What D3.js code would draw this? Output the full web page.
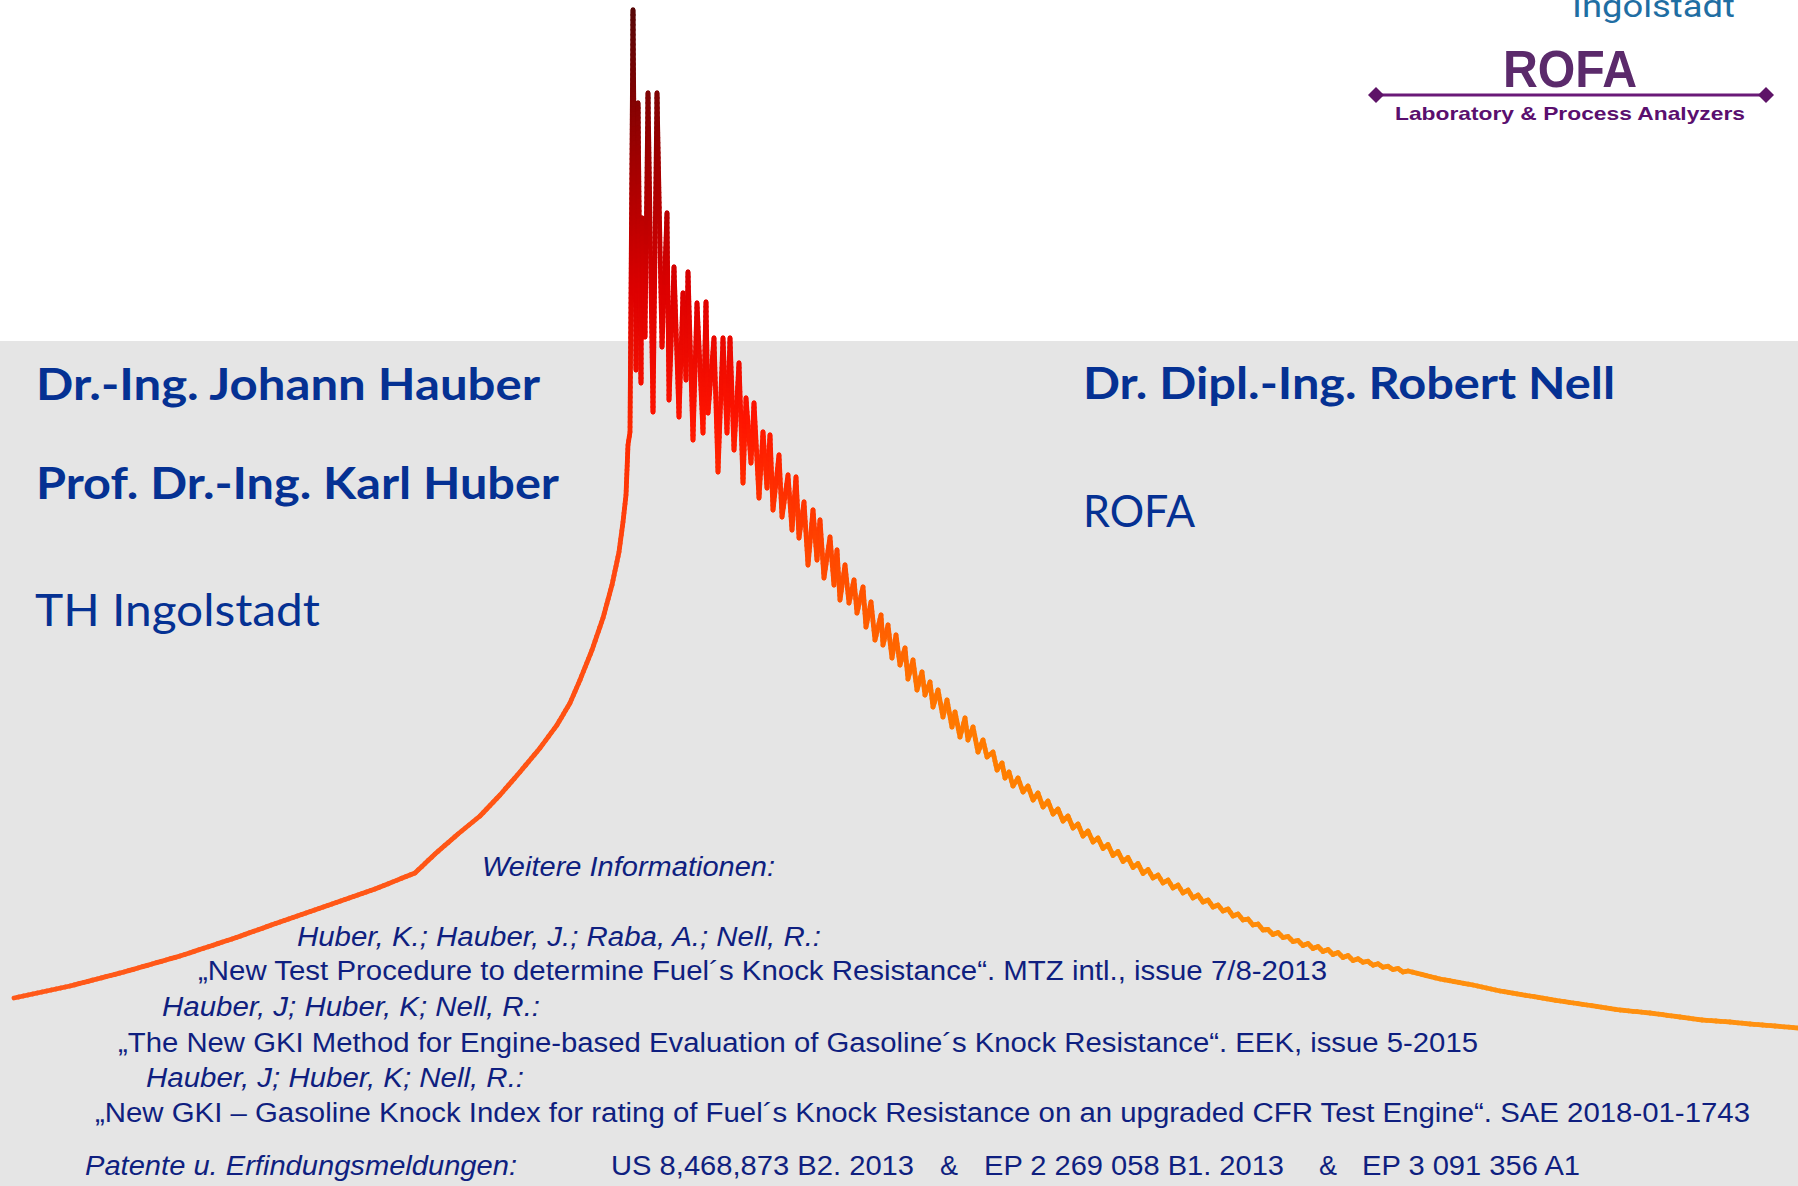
<!DOCTYPE html>
<html><head><meta charset="utf-8">
<script src="https://cdn.jsdelivr.net/npm/d3@7"></script>
<style>html,body{margin:0;padding:0;background:#fff;overflow:hidden}</style>
</head><body><svg id="c" width="1798" height="1186"></svg>
<script>
// ---------------- DATA ----------------
// crank angle [°CA] , cylinder pressure [bar]
const compression = [
  [-31.0,4.2],[-28.2,5.4],[-25.5,6.8],[-22.7,8.4],[-20.1,10.1],[-17.7,11.8],[-15.1,13.6],[-12.95,15.1],
  [-10.95,16.7],[-9.95,18.6],[-8.8,20.6],[-7.7,22.4],[-6.7,24.5],[-5.7,26.8],[-4.7,29.2],[-3.85,31.5],
  [-3.2,33.7],[-2.7,36.0],[-2.1,39.0],[-1.55,42.2],[-1.1,45.5],[-0.75,48.8],[-0.55,51.8],[-0.4,54.5],
  [-0.35,57.0],[-0.3,59.5],[-0.2,60.8]
];
const knock = [
  [-0.05,103.0],[0.1,67.0],[0.2,93.7],[0.35,65.7],[0.4,82.2],[0.55,70.3],[0.7,94.7],[0.95,62.8],
  [1.15,94.7],[1.4,69.3],[1.65,82.7],[1.75,64.0],[2.0,77.3],[2.25,62.3],[2.45,74.7],[2.6,66.0],
  [2.7,76.8],[2.95,60.0],[3.15,73.7],[3.45,60.7],[3.6,73.8],[3.7,62.7],[4.0,70.2],[4.2,56.8],
  [4.45,70.2],[4.65,60.7],[4.8,70.2],[5.0,59.0],[5.25,67.7],[5.45,55.7],[5.6,64.2],[5.85,57.7],
  [6.0,63.7],[6.25,54.2],[6.45,60.8],[6.65,55.2],[6.8,60.5],[6.95,53.0],[7.25,58.5],[7.4,52.3],
  [7.7,56.5],[7.9,51.0],[8.1,56.3],[8.25,50.2],[8.5,53.8],[8.7,47.5],[8.95,53.0],[9.15,48.0],
  [9.3,52.0],[9.5,46.2],[9.8,50.3],[10.0,45.5],[10.15,49.0],[10.3,44.0],[10.55,47.5],[10.75,43.7],
  [11.0,46.0],[11.15,42.7],[11.45,45.3],[11.6,41.3],[11.85,43.8],[12.05,40.0],[12.35,42.5],[12.45,39.5],
  [12.7,41.5],[12.9,38.2],[13.1,40.5],[13.3,37.5],[13.55,39.2],[13.7,36.1],[13.95,38.0],[14.15,35.0],
  [14.4,36.8],[14.55,34.5],[14.8,35.8],[14.95,33.3],[15.2,35.0],[15.45,32.3],[15.65,34.0],[15.9,31.3],
  [16.05,32.8],[16.3,30.3],[16.55,32.2],[16.7,30.0],[16.95,31.3],[17.2,28.8],[17.45,30.0],[17.65,28.3],
  [17.95,28.8],[18.15,27.0],[18.4,27.7],[18.55,26.2],[18.75,26.8],[18.95,25.4]
];
const expansion = [
  [19.2,26.2],[19.45,24.8],[19.7,25.4],[19.95,24.0],[20.2,24.7],[20.45,23.3],[20.7,23.9],[20.95,22.6],
  [21.2,23.1],[21.45,21.9],[21.7,22.4],[21.95,21.2],[22.2,21.6],[22.45,20.4],[22.7,20.9],[22.95,19.8],
  [23.2,20.2],[23.45,19.15],[23.7,19.55],[23.95,18.45],[24.2,18.85],[24.45,17.85],[24.7,18.25],[24.95,17.25],
  [25.2,17.65],[25.45,16.65],[25.7,17.05],[25.95,16.2],[26.2,16.5],[26.45,15.7],[26.7,16.0],[26.95,15.2],
  [27.2,15.5],[27.45,14.7],[27.7,15.0],[27.95,14.2],[28.2,14.5],[28.45,13.8],[28.7,14.0],[28.95,13.3],
  [29.2,13.5],[29.45,12.9],[29.7,13.1],[29.95,12.4],[30.2,12.6],[30.45,12.0],[30.7,12.1],[30.95,11.5],
  [31.2,11.6],[31.45,11.0],[31.7,11.05],[31.95,10.55],[32.2,10.75],[32.45,10.25],[32.7,10.35],[32.95,9.85],
  [33.2,9.95],[33.45,9.45],[33.7,9.65],[33.95,9.15],[34.2,9.35],[34.45,8.85],[34.7,9.05],[34.95,8.55],
  [35.2,8.75],[35.45,8.25],[35.7,8.45],[35.95,7.95],[36.2,8.12],[36.45,7.78],[36.7,7.87],[36.95,7.48],
  [37.2,7.62],[37.45,7.28],[37.7,7.37],[37.95,7.05],[38.2,7.15],[38.45,6.8],[38.7,6.9],
  [40.3,6.1],[41.95,5.5],[43.3,4.9],[44.8,4.4],[46.3,3.9],[47.65,3.5],[49.3,3.0],[50.8,2.7],
  [52.3,2.3],[53.4,2.0],[54.8,1.8],[55.8,1.6],[57.05,1.4],[58.2,1.2]
];
const angleDomain = [-31, 58.2];
const pressureDomain = [0, 104];

const authorsLeft = ["Dr.-Ing. Johann Hauber", "Prof. Dr.-Ing. Karl Huber"];
const instituteLeft = "TH Ingolstadt";
const authorRight = "Dr. Dipl.-Ing. Robert Nell";
const instituteRight = "ROFA";
const infoTitle = "Weitere Informationen:";
const refAuthors = ["Huber, K.; Hauber, J.; Raba, A.; Nell, R.:", "Hauber, J; Huber, K; Nell, R.:", "Hauber, J; Huber, K; Nell, R.:"];
const refTitles = [
  "\u201ENew Test Procedure to determine Fuel\u00B4s Knock Resistance\u201C. MTZ intl., issue 7/8-2013",
  "\u201EThe New GKI Method for Engine-based Evaluation of Gasoline\u00B4s Knock Resistance\u201C. EEK, issue 5-2015",
  "\u201ENew GKI \u2013 Gasoline Knock Index for rating of Fuel\u00B4s Knock Resistance on an upgraded CFR Test Engine\u201C. SAE 2018-01-1743"
];
const patentLabel = "Patente u. Erfindungsmeldungen:";
const patents = ["US 8,468,873 B2. 2013", "EP 2 269 058 B1. 2013", "EP 3 091 356 A1"];
const logoTop = "Ingolstadt";
const logoName = "ROFA";
const logoSub = "Laboratory & Process Analyzers";

// ---------------- DRAW ----------------
const W = 1798, H = 1186;
const svg = d3.select("#c");
svg.append("rect").attr("x",0).attr("y",0).attr("width",W).attr("height",H).attr("fill","#ffffff");
svg.append("rect").attr("x",0).attr("y",341).attr("width",W).attr("height",H-341).attr("fill","#e5e5e5");

const x = d3.scaleLinear().domain(angleDomain).range([14, 1798]);
const y = d3.scaleLinear().domain(pressureDomain).range([1040, 0]);

const colRight = d3.scaleLinear()
  .domain([0, 20, 35, 50, 62, 75, 88, 103])
  .range(["#ff9212", "#ff8600", "#ff7400", "#ff4200", "#ff1500", "#dd0000", "#a00000", "#560707"])
  .interpolate(d3.interpolateRgb).clamp(true);
const colLeft = d3.scaleLinear()
  .domain([0, 30, 50, 61, 75, 88, 103])
  .range(["#ff5a1a", "#ff5414", "#ff4610", "#ff2a00", "#dd0000", "#a00000", "#560707"])
  .interpolate(d3.interpolateRgb).clamp(true);

const series = compression.concat(knock, expansion);
const line = d3.line().x(d => x(d[0])).y(d => y(d[1]));
const g = svg.append("g").attr("fill","none").attr("stroke-width",4.8)
  .attr("stroke-linecap","round").attr("stroke-linejoin","round");
for (let i = 0; i < series.length - 1; i++) {
  const a = series[i], b = series[i+1];
  const dx = x(b[0]) - x(a[0]), dy = y(b[1]) - y(a[1]);
  const n = Math.max(1, Math.ceil(Math.hypot(dx, dy) / 5));
  for (let j = 0; j < n; j++) {
    const t0 = j / n, t1 = (j + 1) / n, tm = (t0 + t1) / 2;
    const p0 = [a[0] + (b[0]-a[0])*t0, a[1] + (b[1]-a[1])*t0];
    const p1 = [a[0] + (b[0]-a[0])*t1, a[1] + (b[1]-a[1])*t1];
    const pm = [a[0] + (b[0]-a[0])*tm, a[1] + (b[1]-a[1])*tm];
    const c = pm[0] < -0.1 ? colLeft(pm[1]) : colRight(pm[1]);
    g.append("path").attr("d", line([p0, p1])).attr("stroke", c);
  }
}

function txt(s, px, py, len, font, size, weight, style, color) {
  const t = svg.append("text").attr("x", px).attr("y", py)
    .attr("font-family", font).attr("font-size", size)
    .attr("font-weight", weight).attr("font-style", style)
    .attr("fill", color).text(s);
  if (len) t.attr("textLength", len).attr("lengthAdjust", "spacingAndGlyphs");
  return t;
}
const blue = "#053193", navy = "#0f1f80";
const cal = "Lato, 'Open Sans', sans-serif";
txt(authorsLeft[0], 36, 400, 504, cal, 44, 700, "normal", blue);
txt(authorsLeft[1], 36, 499, 523, cal, 44, 700, "normal", blue);
txt(instituteLeft, 35, 626, 285, cal, 45, 400, "normal", blue);
txt(authorRight, 1083, 399, 532, cal, 44, 700, "normal", blue);
txt(instituteRight, 1083, 527, 112, cal, 45, 400, "normal", blue);

const ar = "'Liberation Sans', Arial, sans-serif";
txt(infoTitle, 482, 876, 293, ar, 27, 400, "italic", navy);
txt(refAuthors[0], 297, 946, 524, ar, 27, 400, "italic", navy);
txt(refTitles[0], 198, 980, 1129, ar, 27, 400, "normal", navy);
txt(refAuthors[1], 162, 1016, 378, ar, 27, 400, "italic", navy);
txt(refTitles[1], 118, 1052, 1360, ar, 27, 400, "normal", navy);
txt(refAuthors[2], 146, 1087, 378, ar, 27, 400, "italic", navy);
txt(refTitles[2], 95, 1122, 1655, ar, 27, 400, "normal", navy);
txt(patentLabel, 85, 1175, 432, ar, 27, 400, "italic", navy);
txt(patents[0], 611, 1175, 303, ar, 27, 400, "normal", navy);
txt("&", 940, 1175, null, ar, 27, 400, "normal", navy);
txt(patents[1], 984, 1175, 300, ar, 27, 400, "normal", navy);
txt("&", 1319, 1175, null, ar, 27, 400, "normal", navy);
txt(patents[2], 1362, 1175, 218, ar, 27, 400, "normal", navy);

// logos
txt(logoTop, 1572, 17, 163, "Roboto, sans-serif", 32, 400, "normal", "#1f6ea3");
txt(logoName, 1503, 87, 134, ar, 51, 700, "normal", "#5b2a6b");
svg.append("line").attr("x1",1376).attr("x2",1766).attr("y1",95).attr("y2",95)
  .attr("stroke","#6a1a78").attr("stroke-width",3);
[1376, 1766].forEach(cx => {
  svg.append("path").attr("d", `M${cx-8},95 L${cx},87 L${cx+8},95 L${cx},103 Z`).attr("fill","#5e1468");
});
txt(logoSub, 1395, 120, 350, ar, 19, 700, "normal", "#5a0f6e");
</script></body></html>
